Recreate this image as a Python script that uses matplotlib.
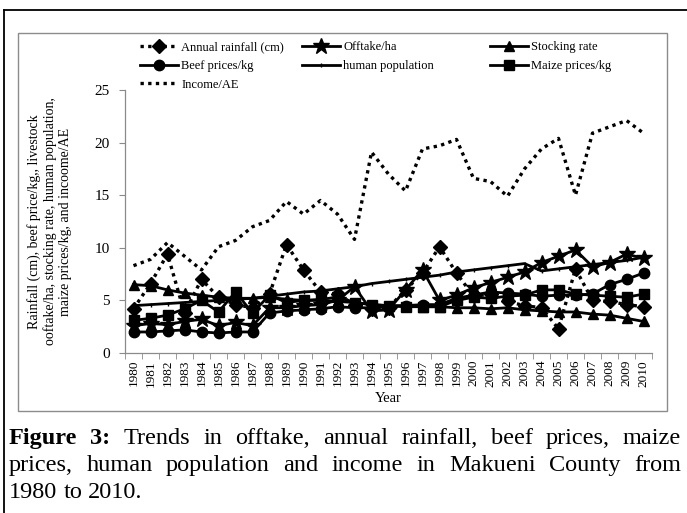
import matplotlib
matplotlib.use('Agg')
import matplotlib.pyplot as plt
from matplotlib.lines import Line2D
from matplotlib.patches import Rectangle

years = list(range(1980, 2011))
rainfall = [4.2, 6.6, 9.4, 3.8, 7.0, 5.3, 4.6, 4.3, 5.6, 10.3, 7.9, 5.8, 5.6, 4.6, 4.2,
            4.3, 6.0, 7.6, 10.1, 7.6, 5.4, 5.6, 4.9, 4.5, 4.3, 2.3, 8.0, 5.0, 4.9, 4.6, 4.4]
offtake = [2.6, 2.8, 2.7, 3.0, 3.2, 2.6, 2.9, 2.6, 4.3, 4.3, 4.5, 4.6, 5.0, 6.3, 4.0,
           4.1, 6.0, 7.9, 5.0, 5.5, 6.2, 6.7, 7.2, 7.7, 8.6, 9.2, 9.8, 8.2, 8.6, 9.4, 9.0]
stocking = [6.5, 6.4, 6.0, 5.7, 5.5, 5.3, 5.2, 5.2, 5.3, 5.1, 5.0, 5.0, 4.9, 4.8, 4.6,
            4.5, 4.5, 4.4, 4.4, 4.3, 4.3, 4.2, 4.3, 4.1, 4.0, 3.9, 3.9, 3.7, 3.6, 3.3, 3.0]
beef = [2.0, 2.0, 2.1, 2.2, 2.0, 1.9, 2.0, 2.0, 3.8, 4.0, 4.1, 4.2, 4.4, 4.3, 4.3,
        4.4, 4.5, 4.6, 4.6, 5.2, 5.5, 5.8, 5.7, 5.6, 5.4, 5.5, 5.5, 5.6, 6.5, 7.0, 7.6]
population = [4.5, 4.6, 4.7, 4.8, 4.9, 5.0, 5.1, 5.2, 5.4, 5.6, 5.8, 5.9, 6.1, 6.3, 6.6,
              6.8, 7.0, 7.2, 7.4, 7.7, 7.9, 8.1, 8.3, 8.5, 7.8, 8.0, 8.2, 8.4, 8.6, 8.8, 9.1]
maize = [3.1, 3.3, 3.6, 4.2, 5.0, 3.9, 5.8, 3.8, 5.5, 4.8, 5.0, 5.1, 5.3, 4.8, 4.6,
         4.5, 4.4, 4.4, 4.4, 5.0, 5.3, 5.2, 5.4, 5.5, 6.0, 6.0, 5.6, 5.5, 5.4, 5.3, 5.6]
income = [8.3, 8.9, 10.5, 9.2, 7.9, 10.1, 10.7, 12.0, 12.6, 14.4, 13.2, 14.5, 13.2, 10.8, 19.1,
          17.0, 15.4, 19.4, 19.7, 20.3, 16.6, 16.3, 14.9, 17.5, 19.4, 20.4, 15.0, 20.9, 21.5, 22.1, 20.9]

yticks = [0, 5, 10, 15, 20, 25]
ylabel = ("Rainfall (cm), beef price/kg,, livestock\n"
          "ooftake/ha, stocking rate, human population,\n"
          "maize prices/kg, and incoome/AE")
caption_lines = [
    ["Figure", "3:", "Trends", "in", "offtake,", "annual", "rainfall,", "beef", "prices,", "maize"],
    ["prices,", "human", "population", "and", "income", "in", "Makueni", "County", "from"],
    ["1980", "to", "2010."],
]

plt.rcParams['font.family'] = ['Liberation Serif', 'DejaVu Serif']

W, H = 687, 513
fig = plt.figure(figsize=(W / 100, H / 100), dpi=100)


def fx(px):
    return px / W


def fy(py):
    return 1 - py / H


ax = fig.add_axes([fx(125), fy(353), fx(652) - fx(125), fy(90) - fy(353)])

dot = (0, (1, 1.3))
l_rain, = ax.plot(years, rainfall, color='black', lw=2.4, linestyle=dot, dash_capstyle='butt',
                  marker='D', ms=7, label='Annual rainfall (cm)')
l_off, = ax.plot(years, offtake, color='black', lw=2.0, marker='*', ms=12, label='Offtake/ha')
l_stock, = ax.plot(years, stocking, color='black', lw=2.0, marker='^', ms=7, label='Stocking rate')
l_beef, = ax.plot(years, beef, color='black', lw=2.0, marker='o', ms=7.5, label='Beef prices/kg')
l_pop, = ax.plot(years, population, color='black', lw=2.0, marker='|', ms=3, mew=1,
                 label='human population')
l_maize, = ax.plot(years, maize, color='black', lw=2.0, marker='s', ms=7, label='Maize prices/kg')
l_inc, = ax.plot(years, income, color='black', lw=2.4, linestyle=dot, dash_capstyle='butt',
                 label='Income/AE')

ax.set_xlim(years[0] - 0.5, years[-1] + 0.5)
ax.set_ylim(0, 25)
ax.set_yticks(yticks)
ax.set_xticks(years)
ax.set_xticks([y - 0.5 for y in years] + [years[-1] + 0.5], minor=True)
ax.tick_params(axis='x', which='major', length=0, labelrotation=90, labelsize=9.5, pad=5)
ax.tick_params(axis='x', which='minor', length=4, color='#8a8a8a', direction='out')
ax.tick_params(axis='y', length=4, color='#8a8a8a', labelsize=11, pad=7)
for s in ['top', 'right']:
    ax.spines[s].set_visible(False)
for s in ['left', 'bottom']:
    ax.spines[s].set_color('#8a8a8a')
    ax.spines[s].set_linewidth(0.9)

ax.set_xlabel('Year', fontsize=10.5, labelpad=4)
ax.set_ylabel(ylabel, fontsize=10, linespacing=1.2, labelpad=16)

leg_kw = dict(loc='upper left', frameon=False, fontsize=9, handlelength=3.0,
              handletextpad=0.3, labelspacing=0.55, borderpad=0, borderaxespad=0,
              numpoints=1, bbox_transform=fig.transFigure)
lg1 = fig.legend([l_rain, l_beef, l_inc], [h.get_label() for h in [l_rain, l_beef, l_inc]],
                 bbox_to_anchor=(fx(140), fy(41)), **leg_kw)
lg2 = fig.legend([l_off, l_pop], [h.get_label() for h in [l_off, l_pop]],
                 bbox_to_anchor=(fx(302), fy(41)), **leg_kw)
lg3 = fig.legend([l_stock, l_maize], [h.get_label() for h in [l_stock, l_maize]],
                 bbox_to_anchor=(fx(490), fy(41)), **leg_kw)

# chart frame and outer border
fig.add_artist(Rectangle((fx(18), fy(411)), fx(667) - fx(18), fy(33) - fy(411),
                         transform=fig.transFigure, fill=False, edgecolor='#8c8c8c', lw=1.0))
fig.add_artist(Line2D([fx(3.5), fx(3.5)], [fy(10), 0], transform=fig.transFigure,
                      color='black', lw=1.3))
fig.add_artist(Line2D([fx(3.5), 1], [fy(10), fy(10)], transform=fig.transFigure,
                      color='black', lw=1.3))

# justified caption
fig.canvas.draw()
renderer = fig.canvas.get_renderer()
x0, x1 = 9, 681
baselines = [444, 471, 498]
cap_size = 17.5
for li, words in enumerate(caption_lines):
    texts = []
    for wi, w in enumerate(words):
        bold = (li == 0 and wi < 2)
        t = fig.text(0, fy(baselines[li]), w, fontsize=cap_size, va='baseline', ha='left',
                     fontweight='bold' if bold else 'normal', transform=fig.transFigure)
        texts.append(t)
    widths = [t.get_window_extent(renderer).width for t in texts]
    if li < len(caption_lines) - 1:
        gap = (x1 - x0 - sum(widths)) / (len(words) - 1)
    else:
        gap = cap_size * 100 / 72 * 0.25
    x = x0
    for t, wdt in zip(texts, widths):
        t.set_x(fx(x))
        x += wdt + gap

fig.savefig('out.png', dpi=100)
